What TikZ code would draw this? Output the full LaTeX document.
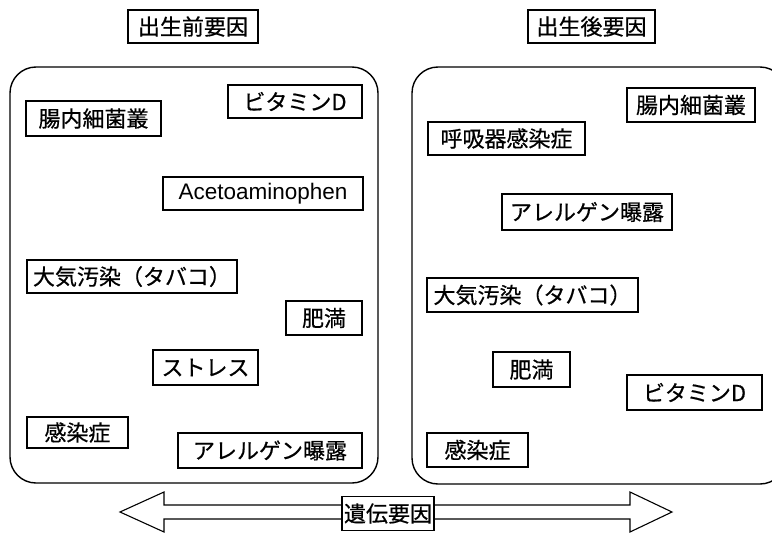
\documentclass[tikz,border=0pt]{standalone}
\usepackage{fontspec}
\newfontfamily\jp[FakeBold=0.6]{Noto Sans CJK JP}
\setmainfont{Liberation Sans}
\tikzset{
  fbox/.style={draw, line width=1.1pt, inner sep=0pt, fill=white,
    font=\jp\fontsize{22}{22}\selectfont},
  bigbox/.style={draw, line width=1.4pt, rounded corners=26pt},
  dblarrow/.style={draw, line width=1.1pt, fill=white, line join=miter}
}
\begin{document}
\begin{tikzpicture}[x=1pt,y=-1pt]
\useasboundingbox (0,0) rectangle (772,533);
\clip (0,0) rectangle (772,533);
% big boxes
\draw[bigbox] (10,67) rectangle (378,483);
\draw[bigbox] (412,67) rectangle (786,484);
% titles
\node[fbox, minimum width=130pt, minimum height=33pt] (pre) at (193,26.5) {出生前要因};
\node[fbox, minimum width=127pt, minimum height=33pt] (post) at (591.5,26.5) {出生後要因};
% left
\node[fbox, minimum width=135pt, minimum height=35pt] (lgut) at (93.5,118.5) {腸内細菌叢};
\node[fbox, minimum width=134pt, minimum height=33pt] (lvit) at (295,101.5) {ビタミンD};
\node[fbox, minimum width=200pt, minimum height=33pt, font=\fontsize{22.5}{22.5}\selectfont] (acet) at (263,193.5) {Acetoaminophen};
\node[fbox, minimum width=210pt, minimum height=33pt] (lair) at (132,276.5) {大気汚染（タバコ）};
\node[fbox, minimum width=76pt, minimum height=34pt] (lobe) at (324,318) {肥満};
\node[fbox, minimum width=105pt, minimum height=35pt] (stress) at (205.5,367.5) {ストレス};
\node[fbox, minimum width=101pt, minimum height=31pt] (linf) at (77.5,432.5) {感染症};
\node[fbox, minimum width=184pt, minimum height=35pt] (lall) at (270,450.5) {アレルゲン曝露};
% right
\node[fbox, minimum width=157pt, minimum height=33pt] (rresp) at (506.5,138.5) {呼吸器感染症};
\node[fbox, minimum width=128pt, minimum height=34pt] (rgut) at (691,105) {腸内細菌叢};
\node[fbox, minimum width=170pt, minimum height=36pt] (rall) at (587,212) {アレルゲン曝露};
\node[fbox, minimum width=211pt, minimum height=34pt] (rair) at (532.5,295) {大気汚染（タバコ）};
\node[fbox, minimum width=77pt, minimum height=35pt] (robe) at (531.5,369.5) {肥満};
\node[fbox, minimum width=135pt, minimum height=35pt] (rvit) at (694.5,392.5) {ビタミンD};
\node[fbox, minimum width=101pt, minimum height=34pt] (rinf) at (477.5,450) {感染症};
% genetic arrow
\coordinate (ltip) at (120,512);
\coordinate (rtip) at (672,512);
\draw[dblarrow] (ltip) -- (164,492) -- (164,505) -- (630,505) -- (630,492) -- (rtip)
  -- (630,532) -- (630,519) -- (164,519) -- (164,532) -- cycle;
\node[fbox, minimum width=92pt, minimum height=34pt] (gene) at (388,513.5) {遺伝要因};
\end{tikzpicture}
\end{document}
